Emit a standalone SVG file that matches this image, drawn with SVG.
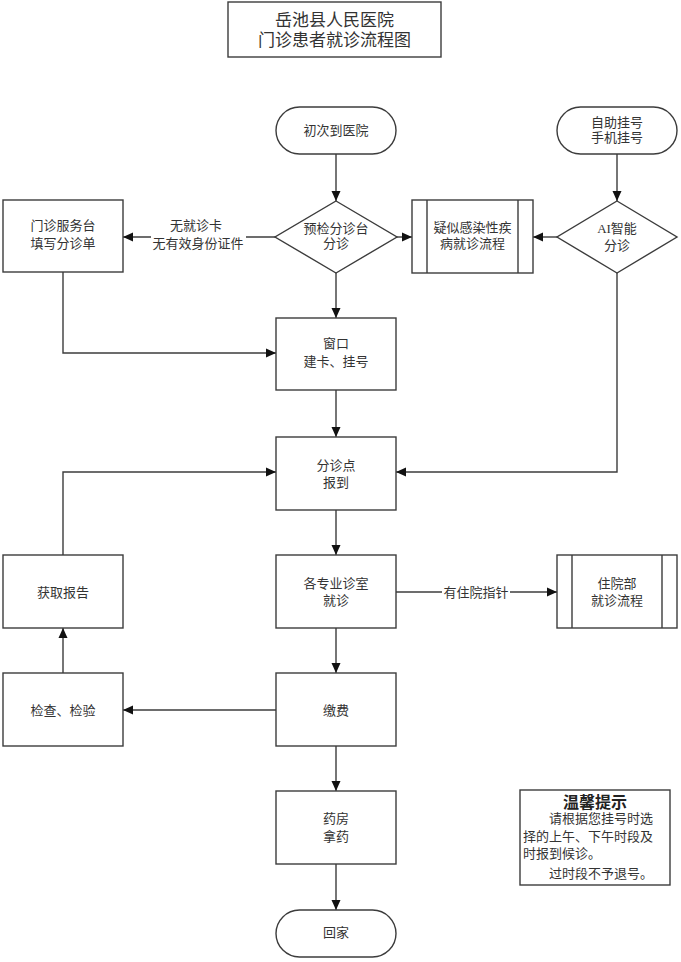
<svg xmlns="http://www.w3.org/2000/svg" width="681" height="962" viewBox="0 0 681 962">
<defs>
<marker id="arr" markerUnits="userSpaceOnUse" markerWidth="10" markerHeight="10" refX="10" refY="5" orient="auto">
<path d="M0,0.5 L10,5 L0,9.5 z" fill="#111"/>
</marker>
<style>
.b{fill:#fff;stroke:#3c3c3c;stroke-width:1.4}
.t{font-family:"Liberation Serif","Noto Sans CJK SC",serif;font-size:13px;fill:#333;text-anchor:middle}
.c{fill:none;stroke:#3c3c3c;stroke-width:1.4;marker-end:url(#arr)}
.l{fill:none;stroke:#3c3c3c;stroke-width:1.4}
</style>
</defs>
<rect width="681" height="962" fill="#fff"/>

<g id="title">
<rect class="b" x="228" y="2" width="213" height="55"/>
<text class="t" style="font-size:17px" x="334.5" y="26">岳池县人民医院</text>
<text class="t" style="font-size:17px" x="334.5" y="46">门诊患者就诊流程图</text>
</g>

<g id="connectors">
<path class="c" d="M336,154 V201"/>
<path class="c" d="M617,154 V201"/>
<path class="c" d="M275,237 H123"/>
<path class="c" d="M397,237 H412"/>
<path class="c" d="M557,237 H533"/>
<path class="c" d="M336,273 V318"/>
<path class="c" d="M63,272 V353 H276"/>
<path class="c" d="M336,390 V437"/>
<path class="c" d="M617,273 V472 H396"/>
<path class="c" d="M63,555 V472 H276"/>
<path class="c" d="M336,510 V555"/>
<path class="c" d="M396,592 H557"/>
<path class="c" d="M336,628 V673"/>
<path class="c" d="M276,710 H123"/>
<path class="c" d="M63,673 V628"/>
<path class="c" d="M336,746 V791"/>
<path class="c" d="M336,864 V910"/>
<rect x="151" y="216" width="95" height="37" fill="#fff"/>
<text class="t" x="196" y="230">无就诊卡</text>
<text class="t" x="198" y="248">无有效身份证件</text>
<rect x="442" y="583" width="68" height="18" fill="#fff"/>
<text class="t" x="476" y="597">有住院指针</text>
</g>

<g id="start">
<rect class="b" x="276" y="107" width="120" height="47" rx="23.5"/>
<text class="t" x="336" y="135">初次到医院</text>
</g>

<g id="selfreg">
<rect class="b" x="557" y="107" width="120" height="47" rx="23.5"/>
<text class="t" x="617" y="127">自助挂号</text>
<text class="t" x="617" y="142">手机挂号</text>
</g>

<g id="pretriage">
<polygon class="b" points="336,201 397,237 336,273 275,237"/>
<text class="t" x="336" y="233">预检分诊台</text>
<text class="t" x="336" y="248">分诊</text>
</g>

<g id="service">
<rect class="b" x="3" y="200" width="120" height="72"/>
<text class="t" x="63" y="230">门诊服务台</text>
<text class="t" x="63" y="248">填写分诊单</text>
</g>

<g id="suspect">
<rect class="b" x="412" y="200" width="121" height="73"/>
<path class="l" d="M427,200 V273 M518,200 V273"/>
<text class="t" x="472.5" y="231.5">疑似感染性疾</text>
<text class="t" x="472.5" y="248">病就诊流程</text>
</g>

<g id="ai">
<polygon class="b" points="617,201 677,237 617,273 557,237"/>
<text class="t" x="617" y="233">AI智能</text>
<text class="t" x="617" y="250">分诊</text>
</g>

<g id="window">
<rect class="b" x="276" y="318" width="120" height="72"/>
<text class="t" x="336" y="348">窗口</text>
<text class="t" x="336" y="366">建卡、挂号</text>
</g>

<g id="triage">
<rect class="b" x="276" y="437" width="120" height="73"/>
<text class="t" x="336" y="470">分诊点</text>
<text class="t" x="336" y="487">报到</text>
</g>

<g id="clinic">
<rect class="b" x="276" y="555" width="120" height="73"/>
<text class="t" x="336" y="588">各专业诊室</text>
<text class="t" x="336" y="605">就诊</text>
</g>

<g id="inpatient">
<rect class="b" x="557" y="555" width="120" height="73"/>
<path class="l" d="M572,555 V628 M662,555 V628"/>
<text class="t" x="617" y="588">住院部</text>
<text class="t" x="617" y="605">就诊流程</text>
</g>

<g id="report">
<rect class="b" x="3" y="555" width="120" height="73"/>
<text class="t" x="63" y="597">获取报告</text>
</g>

<g id="exam">
<rect class="b" x="3" y="673" width="120" height="73"/>
<text class="t" x="63" y="715">检查、检验</text>
</g>

<g id="pay">
<rect class="b" x="276" y="673" width="120" height="73"/>
<text class="t" x="336" y="715">缴费</text>
</g>

<g id="pharmacy">
<rect class="b" x="276" y="791" width="120" height="73"/>
<text class="t" x="336" y="823">药房</text>
<text class="t" x="336" y="841">拿药</text>
</g>

<g id="home">
<rect class="b" x="276" y="910" width="120" height="47" rx="23.5"/>
<text class="t" x="336" y="937">回家</text>
</g>

<g id="tip">
<rect class="b" x="520" y="790" width="150" height="95"/>
<text class="t" style="font-size:16px;font-weight:bold;fill:#222" x="595" y="808">温馨提示</text>
<text class="t" style="text-anchor:start" x="549" y="823">请根据您挂号时选</text>
<text class="t" style="text-anchor:start" x="523" y="841">择的上午、下午时段及</text>
<text class="t" style="text-anchor:start" x="523" y="858">时报到候诊。</text>
<text class="t" style="text-anchor:start" x="549" y="878">过时段不予退号。</text>
</g>
</svg>
